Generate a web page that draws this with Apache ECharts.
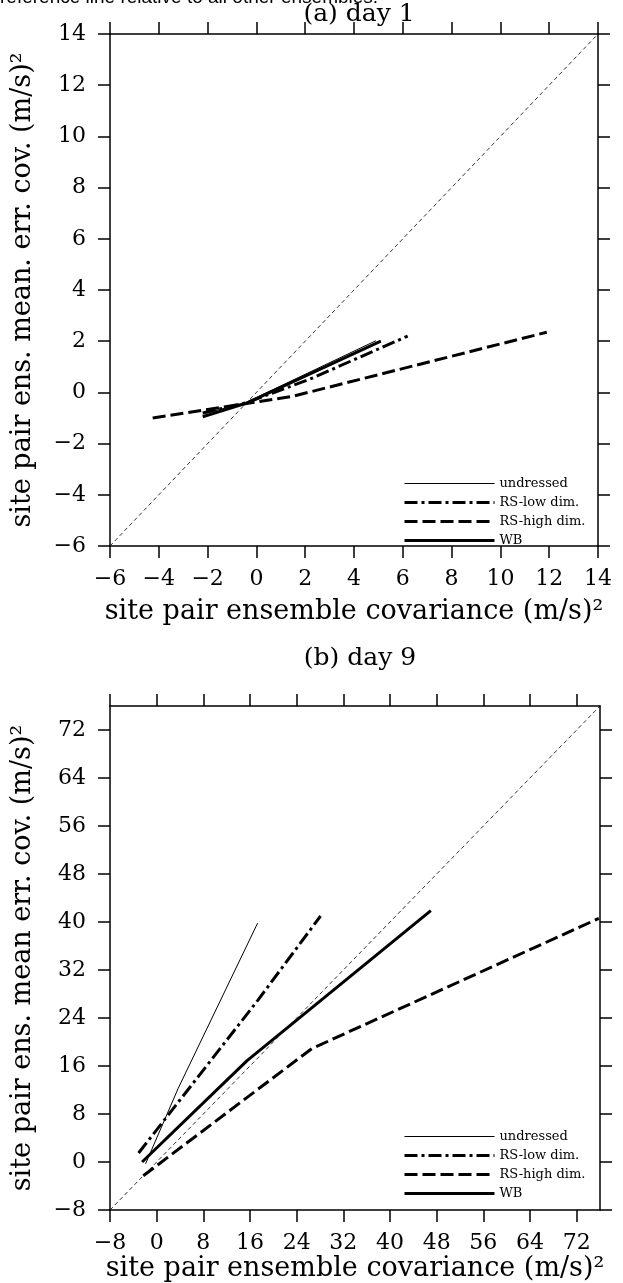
<!DOCTYPE html>
<html>
<head>
	<meta charset="UTF-8">
	<title></title>
	<script type="text/javascript" src="https://cdn.jsdelivr.net/npm/echarts@6/dist/echarts.min.js"></script>
	<style type="text/css">
		html,body{margin:0; padding:0; background:#fff;}
		#chart{width:623px; height:1283px;}
	</style>
</head>
<body>
	<div id="chart"></div>
	<script type="text/javascript">
		// ticks
		const ticksA = [-6, -4, -2, 0, 2, 4, 6, 8, 10, 12, 14];
		const ticksB = [-8, 0, 8, 16, 24, 32, 40, 48, 56, 64, 72];
		const names = ['undressed', 'RS-low dim.', 'RS-high dim.', 'WB'];

		// (a) day 1
		const refA = [[-6, -6], [14, 14]];
		const undressedA = [[-2.2, -0.85], [-0.4, -0.38], [4.9, 2.02]];
		const rsLowA = [[-2.2, -0.8], [-0.4, -0.4], [2.2, 0.52], [6.2, 2.2]];
		const rsHighA = [[-4.25, -1.0], [1.5, -0.15], [11.9, 2.35]];
		const wbA = [[-2.2, -0.95], [-0.4, -0.42], [5.1, 2.0]];

		// (b) day 9
		const refB = [[-8, -8], [76, 76]];
		const undressedB = [[-1.9, -0.3], [3.7, 12.3], [17.3, 39.8]];
		const rsLowB = [[-3.1, 1.5], [17.3, 26.9], [28.1, 41.0]];
		const rsHighB = [[-2.3, -2.3], [26.6, 18.9], [75.8, 40.6]];
		const wbB = [[-2.5, 0], [15.5, 16.9], [47.0, 41.9]];

		const font = 'DejaVu Serif';
		const minus = v => String(v).replace('-', '\u2212');

		// line looks, shared by series and legend
		const looks = [
			{color: '#000', width: 1, type: 'solid'},
			{color: '#000', width: 3, type: [13, 4, 3, 4], cap: 'butt'},
			{color: '#000', width: 3, type: [13, 5], cap: 'butt'},
			{color: '#000', width: 3, type: 'solid'}
		];

		function axisPair(dir, gi, min, max, step, ticks, title, gap) {
			let line = {show: true, onZero: false, lineStyle: {color: '#000', width: 1.5}};
			let main = {
				type: 'value', gridIndex: gi, min: min, max: max, interval: step,
				position: dir == 'x' ? 'bottom' : 'left',
				axisLine: line,
				axisTick: {show: true, inside: false, length: 12, customValues: ticks, lineStyle: {color: '#000', width: 1.5}},
				axisLabel: {customValues: ticks, formatter: minus, color: '#000', fontFamily: font, fontSize: 22, margin: dir == 'x' ? 22 : 24},
				splitLine: {show: false},
				name: title, nameLocation: 'middle', nameGap: gap,
				nameTextStyle: {color: '#000', fontFamily: font, fontSize: 27}
			};
			let mirror = {
				type: 'value', gridIndex: gi, min: min, max: max, interval: step,
				position: dir == 'x' ? 'top' : 'right',
				axisLine: line,
				axisTick: {show: true, inside: false, length: 12, customValues: ticks, lineStyle: {color: '#000', width: 1.5}},
				axisLabel: {show: false},
				splitLine: {show: false}
			};
			return [main, mirror];
		}

		function seriesFor(gi, data, ref) {
			let base = {type: 'line', xAxisIndex: gi * 2, yAxisIndex: gi * 2, symbol: 'none', silent: true,
				animation: false, itemStyle: {color: '#000'}};
			let out = [Object.assign({}, base, {name: 'ref', data: ref, lineStyle: {color: '#000', width: 0.8, type: [4, 3]}})];
			for (let i = 0; i < names.length; i++) {
				out.push(Object.assign({}, base, {name: names[i], data: data[i], lineStyle: looks[i]}));
			}
			return out;
		}

		let xa = axisPair('x', 0, -6, 14, 2, ticksA, 'site pair ensemble covariance (m/s)\u00b2', 52);
		let ya = axisPair('y', 0, -6, 14, 2, ticksA, 'site pair ens. mean. err. cov. (m/s)\u00b2', 74);
		let xb = axisPair('x', 1, -8, 76, 8, ticksB, 'site pair ensemble covariance (m/s)\u00b2', 45);
		let yb = axisPair('y', 1, -8, 76, 8, ticksB, 'site pair ens. mean err. cov. (m/s)\u00b2', 74);

		let legendBase = {
			data: names.map((n, i) => ({name: n, lineStyle: looks[i], itemStyle: {opacity: 0}})),
			orient: 'vertical', left: 398, itemWidth: 90, itemHeight: 12, itemGap: 6,
			itemStyle: {opacity: 0},
			selectedMode: false, textStyle: {color: '#000', fontFamily: font, fontSize: 13}
		};

		let myChart = echarts.init(document.getElementById('chart'), null, {renderer: 'canvas'});
		let option = {
			backgroundColor: '#fff',
			animation: false,
			title: [
				{text: '(a) day 1', left: 354, textAlign: 'center', top: -3,
					textStyle: {color: '#000', fontFamily: font, fontSize: 25, fontWeight: 'normal'}},
				{text: '(b) day 9', left: 355, textAlign: 'center', top: 641,
					textStyle: {color: '#000', fontFamily: font, fontSize: 25, fontWeight: 'normal'}}
			],
			// caption line cut off at the top edge of the picture
			graphic: [{
				type: 'text', x: 0, y: -12, silent: true,
				style: {text: 'reference line relative to all other ensembles.', fill: '#000',
					font: '19px "Liberation Sans"', textVerticalAlign: 'top'}
			}],
			grid: [
				{left: 110, top: 34, width: 488, height: 512, outerBoundsMode: 'none'},
				{left: 110, top: 706, width: 490, height: 504, outerBoundsMode: 'none'}
			],
			xAxis: [xa[0], xa[1], xb[0], xb[1]],
			yAxis: [ya[0], ya[1], yb[0], yb[1]],
			legend: [
				Object.assign({}, legendBase, {top: 472}),
				Object.assign({}, legendBase, {top: 1125})
			],
			series: seriesFor(0, [undressedA, rsLowA, rsHighA, wbA], refA)
				.concat(seriesFor(1, [undressedB, rsLowB, rsHighB, wbB], refB))
		};
		myChart.setOption(option);
	</script>
</body>
</html>
